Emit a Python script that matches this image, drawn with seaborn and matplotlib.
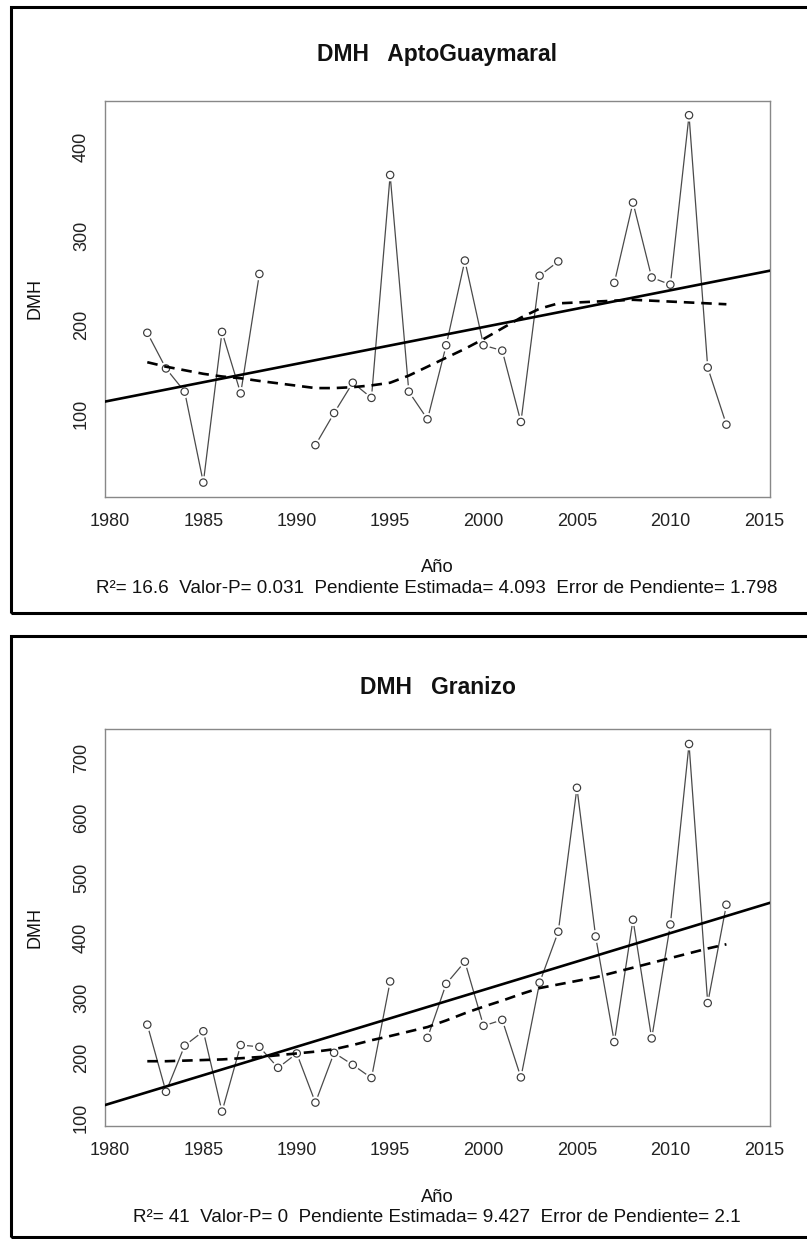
import numpy as np
import pandas as pd
import matplotlib
matplotlib.use("Agg")
import matplotlib.pyplot as plt
import seaborn as sns
from matplotlib.patches import Rectangle

# ---------------- data ----------------
years_top = [1982, 1983, 1984, 1985, 1986, 1987, 1988,
             1991, 1992, 1993, 1994, 1995, 1996, 1997, 1998, 1999, 2000, 2001, 2002, 2003, 2004,
             2007, 2008, 2009, 2010, 2011, 2012, 2013]
dmh_top = [191, 151, 125, 23, 192, 123, 257,
           65, 101, 135, 118, 368, 125, 94, 177, 272, 177, 171, 91, 255, 271,
           247, 337, 253, 245, 435, 152, 88]
smooth_top = [158, 153, 149, 145, 142, 140, 137,
              129, 129, 130, 132, 135, 143, 153, 163, 173, 184, 196, 208, 218, 224,
              227, 228, 227, 226, 225, 224, 223]

years_bot = [1982, 1983, 1984, 1985, 1986, 1987, 1988, 1989, 1990, 1991, 1992, 1993, 1994, 1995,
             1997, 1998, 1999, 2000, 2001, 2002, 2003, 2004, 2005, 2006, 2007, 2008, 2009, 2010,
             2011, 2012, 2013]
dmh_bot = [255, 143, 220, 244, 110, 221, 218, 183, 207, 125, 208, 188, 166, 327,
           233, 323, 360, 253, 263, 167, 325, 410, 650, 402, 226, 430, 232, 422,
           723, 291, 455]
smooth_bot = [194, 194, 195, 196, 197, 199, 201, 204, 207, 210, 214, 221, 229, 236,
              251, 262, 274, 285, 295, 306, 316, 322, 328, 334, 342, 350, 358, 366,
              374, 382, 389]

titles = ["DMH   AptoGuaymaral", "DMH   Granizo"]
stats_text = ["R\u00b2= 16.6  Valor-P= 0.031  Pendiente Estimada= 4.093  Error de Pendiente= 1.798",
              "R\u00b2= 41  Valor-P= 0  Pendiente Estimada= 9.427  Error de Pendiente= 2.1"]
x_ticks = [1980, 1985, 1990, 1995, 2000, 2005, 2010, 2015]
y_ticks_top = [100, 200, 300, 400]
y_ticks_bot = [100, 200, 300, 400, 500, 600, 700]

# ---------------- style ----------------
sns.set_style("white")
plt.rcParams["font.family"] = ["Liberation Sans", "DejaVu Sans"]

W, H = 807, 1239
fig = plt.figure(figsize=(W / 100, H / 100), dpi=100)

def fx(px):
    return px / W

def fy(py):
    return 1 - py / H

def draw_panel(years, vals, smooth, title, stat, yticks, ax_box, title_y, ano_y, stat_y, border):
    left, top, right, bottom = ax_box
    ax = fig.add_axes([fx(left), fy(bottom), fx(right) - fx(left), fy(top) - fy(bottom)])
    yrs = np.array(years)
    v = np.array(vals, dtype=float)
    seg = np.concatenate([[0], np.cumsum(np.diff(yrs) > 1)])
    df = pd.DataFrame({"year": yrs, "val": v, "seg": seg, "smooth": smooth})

    # connecting lines (only between consecutive years)
    sns.lineplot(data=df, x="year", y="val", units="seg", estimator=None,
                 color="#4a4a4a", lw=0.9, ax=ax, zorder=1, legend=False)
    # white gaps round points (R type = "b")
    sns.scatterplot(data=df, x="year", y="val", s=85, color="white",
                    edgecolor="none", ax=ax, zorder=2, legend=False)
    # open circles
    sns.scatterplot(data=df, x="year", y="val", s=28, facecolor="none",
                    edgecolor="#3a3a3a", linewidth=0.85, ax=ax, zorder=3, legend=False)

    # limits like R (data range + 4%)
    rng = v.max() - v.min()
    ylim = (v.min() - 0.04 * rng, v.max() + 0.04 * rng)
    xlim = (1979.72, 2015.35)

    # least-squares trend line across the full plot
    slope, intercept = np.polyfit(yrs, v, 1)
    xs = np.array(xlim)
    sns.lineplot(x=xs, y=intercept + slope * xs, color="black", lw=1.9, ax=ax, zorder=4)
    # smooth (dashed)
    sns.lineplot(data=df, x="year", y="smooth", color="black", lw=1.9, ax=ax, zorder=4,
                 dashes=False, linestyle=(0, (4, 2.6)))

    ax.set_xlim(*xlim)
    ax.set_ylim(*ylim)
    ax.set_xticks(x_ticks)
    ax.set_yticks(yticks)
    ax.set_xticklabels([str(t) for t in x_ticks])
    ax.set_yticklabels([str(t) for t in yticks], rotation=90, va="center")
    ax.tick_params(axis="both", direction="out", length=7.5, width=0.9, color="#777777",
                   labelsize=13, labelcolor="#222222", pad=4.0)
    ax.tick_params(axis="y", pad=3.0)
    for sp in ax.spines.values():
        sp.set_color("#888888")
        sp.set_linewidth(1.0)
    ax.set_xlabel("")
    ax.set_ylabel("DMH", fontsize=13, color="#111111")
    ax.yaxis.set_label_coords((44.0 - left) / (right - left), 0.5)

    cx = fx((left + right) / 2)
    fig.text(cx, fy(title_y), title, ha="center", va="center", fontsize=16.5,
             fontweight="bold", color="#111111")
    fig.text(cx, fy(ano_y), "A\u00f1o", ha="center", va="center", fontsize=13.2, color="#111111")
    fig.text(cx + fx(-1), fy(stat_y), stat, ha="center", va="center", fontsize=13.6, color="#111111")

    bx0, by0, bx1, by1 = border
    fig.patches.append(Rectangle((fx(bx0), fy(by1)), fx(bx1) - fx(bx0), fy(by0) - fy(by1),
                                 transform=fig.transFigure, fill=False, edgecolor="black",
                                 linewidth=2.2, zorder=10))
    return ax

draw_panel(years_top, dmh_top, smooth_top, titles[0], stats_text[0], y_ticks_top,
           (104.7, 100.5, 770.3, 497.3), 55, 568, 588, (10.5, 6.5, 812, 613))
draw_panel(years_bot, dmh_bot, smooth_bot, titles[1], stats_text[1], y_ticks_bot,
           (104.7, 729.3, 770.3, 1126.3), 687, 1197, 1218, (10.5, 635.5, 812, 1237))

fig.savefig("out.png", dpi=100)
